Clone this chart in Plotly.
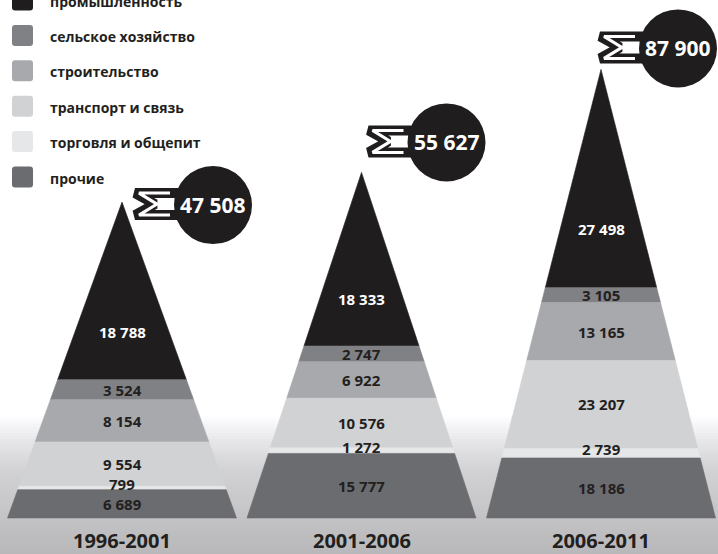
import plotly.graph_objects as go

# ---------------- data ----------------
periods = ["1996-2001", "2001-2006", "2006-2011"]
sectors = ["промышленность", "сельское хозяйство", "строительство",
           "транспорт и связь", "торговля и общепит", "прочие"]
industry = [18788, 18333, 27498]
agriculture = [3524, 2747, 3105]
construction = [8154, 6922, 13165]
transport = [9554, 10576, 23207]
trade = [799, 1272, 2739]
other = [6689, 15777, 18186]

series = [industry, agriculture, construction, transport, trade, other]
totals = [sum(s[i] for s in series) for i in range(len(periods))]

# ---------------- style / layout ----------------
colors = ["#201d1e", "#808184", "#a7a9ac", "#d1d2d4", "#e6e7e8", "#6b6c70"]
label_colors = ["#ffffff", "#231f20", "#231f20", "#231f20", "#231f20", "#231f20"]
W, Hpx = 718, 554
BASE_PX = 518            # pixel row of pyramid bases
X0, DX = 122, 239.5      # pyramid centres
BASE_HALF = 114.5        # half width of pyramid base
H_K, H_P = 0.682, 0.57   # pyramid height = H_K * total ** H_P
SEG_P = 0.62             # depth fraction = (cumulative share) ** SEG_P
SIG_OFF = [(31, -2), (25, 31), (17, 22)]   # sigma centre offset from apex
CIRC_OFF = (60, -1)      # circle centre offset from sigma centre
CIRC_R = 39
FONT = "Open Sans"
INK = "#231f20"


def fmt(v):
    return f"{v:,}".replace(",", " ")


def py2y(py):
    return BASE_PX - py


fig = go.Figure()
shapes = []
annotations = []

# background gradient (bottom)
def grey_at(py):
    stops = [(0, 255), (415, 255), (442, 230), (470, 210), (554, 184)]
    for (a, ca), (b, cb) in zip(stops[:-1], stops[1:]):
        if a <= py <= b:
            t = (py - a) / (b - a) if b > a else 0
            return ca + (cb - ca) * t
    return stops[-1][1]

step = 3
for py in range(412, Hpx, step):
    g = int(round(grey_at(py + step / 2)))
    shapes.append(dict(type="rect", xref="paper", yref="paper",
                       x0=0, x1=1, y0=1 - (py + step + 0.5) / Hpx, y1=1 - py / Hpx,
                       fillcolor=f"rgb({g},{g},{min(255, g+2)})", line=dict(width=0), layer="below"))

for i, period in enumerate(periods):
    cx = X0 + DX * i
    total = totals[i]
    H = H_K * total ** H_P
    cum = 0
    prev_d = 0.0
    for j, s in enumerate(series):
        v = s[i]
        cum += v
        d = H * (cum / total) ** SEG_P
        w1 = BASE_HALF * prev_d / H
        w2 = BASE_HALF * d / H
        yt, yb = H - prev_d, H - d
        fig.add_trace(go.Scatter(
            x=[cx - w1, cx + w1, cx + w2, cx - w2, cx - w1],
            y=[yt, yt, yb, yb, yt],
            mode="lines", fill="toself", fillcolor=colors[j],
            line=dict(width=0.6, color=colors[j]), hoverinfo="skip", showlegend=False))
        if j == 0:
            ly = H - 0.73 * d
        else:
            ly = (yt + yb) / 2
        yshift = 4 if d - prev_d < 10 else 0
        annotations.append(dict(x=cx, y=ly, xref="x", yref="y", text=fmt(v),
                                showarrow=False, yshift=yshift,
                                font=dict(family=FONT, size=15, color=label_colors[j], weight=700)))
        prev_d = d

    # period label
    annotations.append(dict(x=cx, y=py2y(540), xref="x", yref="y", text=period,
                            showarrow=False,
                            font=dict(family=FONT, size=20, color=INK, weight=700)))

    # sigma + circle with total
    sx = cx + SIG_OFF[i][0]
    sy = H + SIG_OFF[i][1]
    outer = [(20, -6), (20, -11), (-18, -11), (2, 0), (-18, 11), (20, 11), (20, 6)]
    inner = [(17, -11), (-14, -11), (4, 0), (-14, 11), (17, 11)]
    fig.add_trace(go.Scatter(x=[sx + p[0] for p in outer], y=[sy - p[1] for p in outer],
                             mode="lines", line=dict(color="#201d1e", width=10),
                             hoverinfo="skip", showlegend=False))
    fig.add_trace(go.Scatter(x=[sx + p[0] for p in inner], y=[sy - p[1] for p in inner],
                             mode="lines", line=dict(color="#ffffff", width=3),
                             hoverinfo="skip", showlegend=False))
    ccx, ccy = sx + CIRC_OFF[0], sy + CIRC_OFF[1]
    shapes.append(dict(type="circle", xref="x", yref="y",
                       x0=ccx - CIRC_R, x1=ccx + CIRC_R, y0=ccy - CIRC_R, y1=ccy + CIRC_R,
                       fillcolor="#201d1e", line=dict(width=0), layer="above"))
    annotations.append(dict(x=ccx, y=ccy, xref="x", yref="y", text=fmt(total),
                            showarrow=False,
                            font=dict(family=FONT, size=21, color="#ffffff", weight=700)))

# legend
for j, name in enumerate(sectors):
    pyc = 0 + 35.4 * j
    x0, x1 = 12, 33
    y0, y1 = py2y(pyc + 10.5), py2y(pyc - 10.5)
    r = 3
    path = (f"M {x0+r},{y0} L {x1-r},{y0} Q {x1},{y0} {x1},{y0+r} L {x1},{y1-r} "
            f"Q {x1},{y1} {x1-r},{y1} L {x0+r},{y1} Q {x0},{y1} {x0},{y1-r} "
            f"L {x0},{y0+r} Q {x0},{y0} {x0+r},{y0} Z")
    shapes.append(dict(type="path", xref="x", yref="y", path=path,
                       fillcolor=colors[j], line=dict(width=0)))
    annotations.append(dict(x=48, y=py2y(pyc + 1), xref="x", yref="y", text=name,
                            showarrow=False, xanchor="left",
                            font=dict(family=FONT, size=14, color=INK, weight=700)))

fig.update_layout(
    width=W, height=Hpx,
    margin=dict(l=0, r=0, t=0, b=0),
    paper_bgcolor="#ffffff", plot_bgcolor="rgba(0,0,0,0)",
    xaxis=dict(range=[0, W], visible=False, fixedrange=True),
    yaxis=dict(range=[py2y(Hpx), py2y(0)], visible=False, fixedrange=True),
    shapes=shapes, annotations=annotations,
    font=dict(family=FONT),
    showlegend=False,
)

fig.write_html("out.html", post_script="document.body.style.margin='0';",
               config={"displayModeBar": False})
